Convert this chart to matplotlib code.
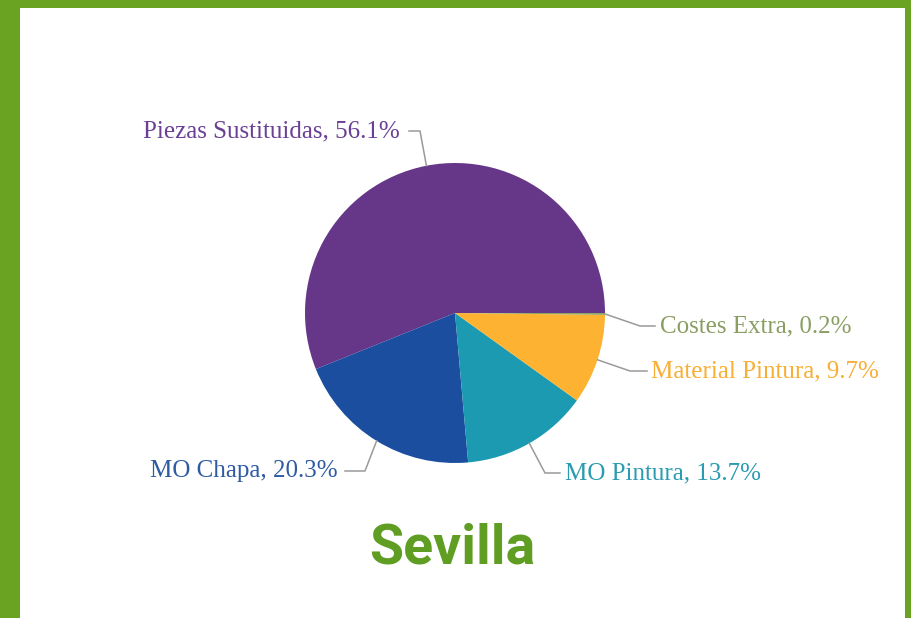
import matplotlib

matplotlib.use("Agg")
import matplotlib.pyplot as plt
from matplotlib.patches import Rectangle
import numpy as np

# Data
labels = ["Piezas Sustituidas", "MO Chapa", "MO Pintura", "Material Pintura", "Costes Extra"]
shares = [56.1, 20.3, 13.7, 9.7, 0.2]
slice_colors = ["#663689", "#1b4e9f", "#1b9ab2", "#fdb331", "#8ea562"]
text_colors = ["#6a3f95", "#2e5ba3", "#2a9bb0", "#f9ae35", "#8a9d62"]
title = "Sevilla"

W, H = 912, 618
fig = plt.figure(figsize=(W / 100, H / 100), dpi=100)
fig.patch.set_facecolor("#6aa222")
ax = fig.add_axes([0, 0, 1, 1])
ax.set_xlim(0, W)
ax.set_ylim(0, H)
ax.set_aspect("equal")
ax.axis("off")

# white panel
ax.add_patch(Rectangle((20, 0), 885, H - 8, facecolor="white", edgecolor="none", zorder=0))

cx, cy, r = 455, H - 313, 150
wedges, _ = ax.pie(shares, colors=slice_colors, startangle=0, counterclock=True,
                   center=(cx, cy), radius=r, normalize=True,
                   wedgeprops=dict(linewidth=0))
ax.set_xlim(0, W)
ax.set_ylim(0, H)

# label placement: (elbow, line end, text anchor) in pixel coords (y from top)
label_layout = {
    "Piezas Sustituidas": ((420, 131), (409, 131), (400, 131), "right"),
    "MO Chapa": ((365, 471), (345, 471), (338, 471), "right"),
    "MO Pintura": ((545, 473), (560, 473), (565, 473), "left"),
    "Material Pintura": ((630, 371), (647, 371), (651, 371), "left"),
    "Costes Extra": ((640, 326), (655, 326), (660, 326), "left"),
}

for w, lab, val, tc in zip(wedges, labels, shares, text_colors):
    mid = np.deg2rad((w.theta1 + w.theta2) / 2)
    px, py = cx + r * np.cos(mid), cy + r * np.sin(mid)
    (ex, ey), (lx, ly), (tx, ty), ha = label_layout[lab]
    ax.plot([px, ex, lx], [py, H - ey, H - ly], color="#9a9a9a", lw=1.1, zorder=1)
    ax.text(tx, H - ty, f"{lab}, {val}%", ha=ha, va="center",
            color=tc, fontsize=18, family="Liberation Serif")

ax.text(452, H - 548, title, ha="center", va="center", fontsize=40,
        fontweight="bold", family="Roboto", color="#5f9e22")

fig.savefig("out.png", dpi=100, facecolor=fig.get_facecolor())
